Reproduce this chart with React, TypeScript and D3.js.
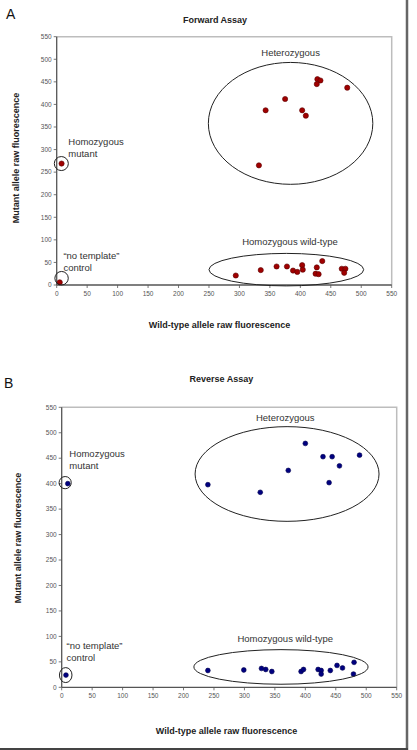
import React from 'react';
import * as d3 from 'd3';

// Forward assay (wild-type FAM vs mutant VIC raw fluorescence)
const forwardWt = [428, 433, 427, 477, 375, 343, 403, 409, 332, 8, 294, 335, 361, 378, 388, 395, 403, 404, 427, 425, 430, 436, 468, 474, 472, 5];
const forwardMut = [456, 453, 445, 437, 412, 387, 387, 375, 265, 269, 21, 33, 41, 41, 32, 29, 44, 34, 39, 25, 24, 53, 36, 36, 27, 6];

// Reverse assay
const reverseWt = [400, 429, 444, 489, 456, 372, 240, 326, 439, 10, 240, 299, 328, 335, 345, 393, 397, 421, 426, 426, 441, 452, 461, 480, 479, 7];
const reverseMut = [479, 453, 453, 456, 435, 426, 398, 383, 402, 400, 33, 34, 37, 35, 31, 31, 35, 35, 33, 26, 33, 43, 38, 49, 26, 24];

const axisTicks = [0, 50, 100, 150, 200, 250, 300, 350, 400, 450, 500, 550];

// Genotype cluster outlines, in data units
const forwardClusters = [
  { cx: 384, cy: 358, rx: 135, ry: 135 },
  { cx: 7.6, cy: 269, rx: 11.5, ry: 15.5 },
  { cx: 377, cy: 34, rx: 127, ry: 36 },
  { cx: 8, cy: 15, rx: 11, ry: 15 },
];
const reverseClusters = [
  { cx: 370, cy: 419, rx: 151, ry: 93 },
  { cx: 5.7, cy: 402, rx: 10, ry: 12 },
  { cx: 360, cy: 40, rx: 143, ry: 34 },
  { cx: 6.6, cy: 24, rx: 10.3, ry: 14.7 },
];

// Cluster captions: [text, x, y, anchor]
const forwardNotes: [string, number, number, string][] = [
  ['Heterozygous', 384, 514, 'middle'],
  ['Homozygous', 19, 317, 'start'],
  ['mutant', 19, 292, 'start'],
  ['Homozygous wild-type', 383, 97, 'middle'],
  ['\u201cno template\u201d', 11, 64, 'start'],
  ['control', 11, 38, 'start'],
];
const reverseNotes: [string, number, number, string][] = [
  ['Heterozygous', 367, 530, 'middle'],
  ['Homozygous', 12.5, 459, 'start'],
  ['mutant', 12.5, 436, 'start'],
  ['Homozygous wild-type', 367, 95, 'middle'],
  ['\u201cno template\u201d', 8, 81, 'start'],
  ['control', 8, 59, 'start'],
];

const FONT = '"Liberation Sans", Arial, sans-serif';

interface PanelProps {
  letter: string;
  letterPos: [number, number];
  title: string;
  titleX: number;
  titleY: number;
  box: { left: number; right: number; top: number; bottom: number };
  xs: number[];
  ys: number[];
  clusters: { cx: number; cy: number; rx: number; ry: number }[];
  notes: [string, number, number, string][];
  fill: string;
  stroke: string;
  r: number;
  xLabelPos: [number, number];
  yLabelPos: [number, number];
}

function Panel(p: PanelProps) {
  const { box } = p;
  const x = d3.scaleLinear().domain([0, 550]).range([box.left, box.right]);
  const y = d3.scaleLinear().domain([0, 550]).range([box.bottom, box.top]);
  const sx = (box.right - box.left) / 550;
  const sy = (box.bottom - box.top) / 550;

  return (
    <g>
      <text x={p.letterPos[0]} y={p.letterPos[1]} fontFamily={FONT} fontSize={14} fill="#111">{p.letter}</text>
      <text x={p.titleX} y={p.titleY} textAnchor="middle" fontFamily={FONT} fontSize={9} fontWeight="bold" fill="#222">{p.title}</text>

      {/* plot frame */}
      <path d={`M${box.left},${box.top}H${box.right}V${box.bottom}`} fill="none" stroke="#bdbdbd" strokeWidth={1.5} />
      <line x1={box.left} x2={box.left} y1={box.top} y2={box.bottom} stroke="#555" strokeWidth={1.3} />
      <line x1={box.left} x2={box.right} y1={box.bottom} y2={box.bottom} stroke="#555" strokeWidth={1.3} />

      {axisTicks.map(t => (
        <g key={'y' + t}>
          <line x1={box.left - 3} x2={box.left} y1={y(t)} y2={y(t)} stroke="#555" strokeWidth={0.8} />
          <text x={box.left - 5} y={y(t)} dy="0.35em" textAnchor="end" fontFamily={FONT} fontSize={6.5} fill="#555">{t}</text>
        </g>
      ))}
      {axisTicks.map(t => (
        <g key={'x' + t}>
          <line x1={x(t)} x2={x(t)} y1={box.bottom} y2={box.bottom + 3} stroke="#555" strokeWidth={0.8} />
          <text x={x(t)} y={box.bottom + 11} textAnchor="middle" fontFamily={FONT} fontSize={6.5} fill="#555">{t}</text>
        </g>
      ))}

      <text x={p.xLabelPos[0]} y={p.xLabelPos[1]} textAnchor="middle" fontFamily={FONT} fontSize={9} fontWeight="bold" fill="#222">Wild-type allele raw fluorescence</text>
      <text transform={`translate(${p.yLabelPos[0]},${p.yLabelPos[1]}) rotate(-90)`} textAnchor="middle" fontFamily={FONT} fontSize={9} fontWeight="bold" fill="#222">Mutant allele raw fluorescence</text>

      {p.xs.map((v, i) => (
        <circle key={i} cx={x(v)} cy={y(p.ys[i])} r={p.r} fill={p.fill} stroke={p.stroke} strokeWidth={0.6} />
      ))}

      {p.clusters.map((c, i) => (
        <ellipse key={i} cx={x(c.cx)} cy={y(c.cy)} rx={c.rx * sx} ry={c.ry * sy} fill="none" stroke="#222" strokeWidth={1} />
      ))}

      {p.notes.map(([t, nx, ny, anchor], i) => (
        <text key={i} x={x(nx)} y={y(ny)} dy="0.35em" textAnchor={anchor as any} fontFamily={FONT} fontSize={9.5} fill="#333">{t}</text>
      ))}
    </g>
  );
}

export default function App() {
  return (
    <svg width={417} height={750} style={{ position: 'absolute', left: 0, top: 0, background: '#fff' }}>
      <rect width={417} height={750} fill="#fff" />
      <Panel
        letter="A" letterPos={[6, 19]}
        title="Forward Assay" titleX={215} titleY={23}
        box={{ left: 56.7, right: 391.7, top: 36.7, bottom: 285 }}
        xs={forwardWt} ys={forwardMut}
        clusters={forwardClusters} notes={forwardNotes}
        fill="#a00000" stroke="#5a0000" r={2.6}
        xLabelPos={[219.5, 328]} yLabelPos={[18.5, 158]}
      />
      <Panel
        letter="B" letterPos={[4, 388]}
        title="Reverse Assay" titleX={221.3} titleY={382}
        box={{ left: 61.7, right: 396.7, top: 407.3, bottom: 687.3 }}
        xs={reverseWt} ys={reverseMut}
        clusters={reverseClusters} notes={reverseNotes}
        fill="#000080" stroke="#00004d" r={2.4}
        xLabelPos={[226.5, 734]} yLabelPos={[20.5, 538]}
      />
      {/* figure border on the right and bottom */}
      <line x1={407} x2={407} y1={0} y2={750} stroke="#666" strokeWidth={2.5} />
      <line x1={0} x2={408} y1={749} y2={749} stroke="#444" strokeWidth={2} />
    </svg>
  );
}
